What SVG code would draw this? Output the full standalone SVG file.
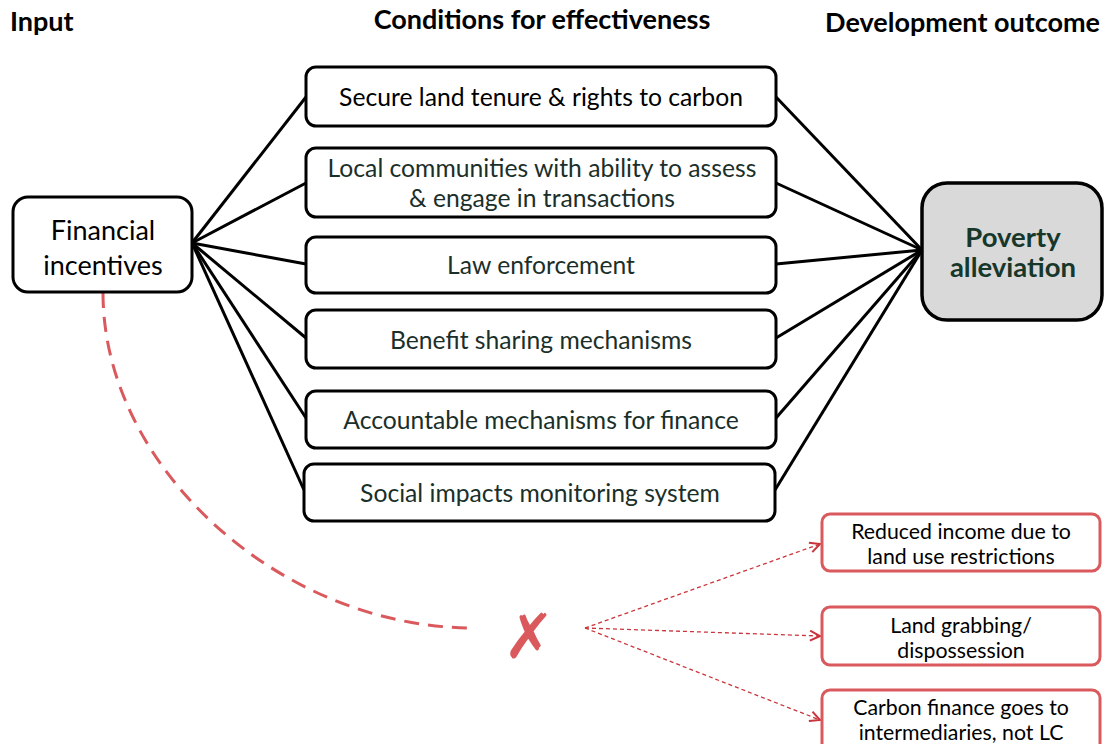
<svg xmlns="http://www.w3.org/2000/svg" width="1107" height="744" viewBox="0 0 1107 744">
<style>
text{font-family:Lato,"Open Sans","Liberation Sans",sans-serif}
.hdr{font-size:27px;font-weight:bold;fill:#000}
.box{fill:#fff;stroke:#000;stroke-width:3}
.ct{font-size:24.7px;fill:#1b2f2a;text-anchor:middle}
.conn{stroke:#000;stroke-width:3;fill:none}
.rbox{fill:#fff;stroke:#d9595c;stroke-width:3}
.rt{font-size:21.3px;fill:#000;text-anchor:middle}
.rarr{stroke:#c9353c;stroke-width:1.3;fill:none;stroke-dasharray:4 3}
</style>
<defs>
<marker id="ah" viewBox="0 0 12 12" refX="11" refY="6" markerWidth="12" markerHeight="12" markerUnits="userSpaceOnUse" orient="auto">
<path d="M1,1 L11,6 L1,11" fill="none" stroke="#c9353c" stroke-width="2"/>
</marker>
</defs>
<rect width="1107" height="744" fill="#fff"/>
<g id="headers">
<text class="hdr" x="10" y="31">Input</text>
<text class="hdr" x="542" y="29" text-anchor="middle">Conditions for effectiveness</text>
<text class="hdr" x="1100" y="32" text-anchor="end">Development outcome</text>
</g>
<g id="connectors">
<line class="conn" x1="192" y1="243" x2="306" y2="97"/>
<line class="conn" x1="192" y1="243" x2="306" y2="183"/>
<line class="conn" x1="192" y1="243" x2="306" y2="264"/>
<line class="conn" x1="192" y1="243" x2="306" y2="338"/>
<line class="conn" x1="192" y1="243" x2="306" y2="418"/>
<line class="conn" x1="192" y1="243" x2="304" y2="490"/>
<line class="conn" x1="776" y1="97" x2="922" y2="250"/>
<line class="conn" x1="776" y1="183" x2="922" y2="250"/>
<line class="conn" x1="776" y1="264" x2="922" y2="250"/>
<line class="conn" x1="776" y1="338" x2="922" y2="250"/>
<line class="conn" x1="776" y1="418" x2="922" y2="250"/>
<line class="conn" x1="775" y1="490" x2="922" y2="250"/>
<path d="M103,293 C103,467 280,628 474,628" fill="none" stroke="#d9595c" stroke-width="3" stroke-dasharray="15 9"/>
<line class="rarr" x1="585" y1="628" x2="820" y2="544" marker-end="url(#ah)"/>
<line class="rarr" x1="585" y1="628" x2="820" y2="636" marker-end="url(#ah)"/>
<line class="rarr" x1="585" y1="628" x2="820" y2="720" marker-end="url(#ah)"/>
</g>
<g id="financial">
<rect class="box" x="13" y="197" width="179" height="95" rx="15"/>
<text x="103" y="240" font-size="27" text-anchor="middle" fill="#000">Financial</text>
<text x="103" y="275" font-size="27" text-anchor="middle" fill="#000">incentives</text>
</g>
<g id="c1">
<rect class="box" x="306" y="67" width="470" height="59" rx="10"/>
<text class="ct" x="541" y="106" style="fill:#000">Secure land tenure &amp; rights to carbon</text>
</g>
<g id="c2">
<rect class="box" x="306" y="148" width="470" height="69" rx="10"/>
<text class="ct" x="542" y="177">Local communities with ability to assess</text>
<text class="ct" x="542" y="207">&amp; engage in transactions</text>
</g>
<g id="c3">
<rect class="box" x="306" y="237" width="470" height="56" rx="10"/>
<text class="ct" x="541" y="274">Law enforcement</text>
</g>
<g id="c4">
<rect class="box" x="306" y="310" width="470" height="58" rx="10"/>
<text class="ct" x="541" y="349">Benefit sharing mechanisms</text>
</g>
<g id="c5">
<rect class="box" x="306" y="391" width="470" height="57" rx="10"/>
<text class="ct" x="541" y="429">Accountable mechanisms for finance</text>
</g>
<g id="c6">
<rect class="box" x="304" y="464" width="471" height="57" rx="10"/>
<text class="ct" x="540" y="502">Social impacts monitoring system</text>
</g>
<g id="poverty">
<rect x="922" y="183" width="180" height="137" rx="25" fill="#d9d9d9" stroke="#000" stroke-width="3.5"/>
<text x="1013" y="247" font-size="27.5" font-weight="bold" text-anchor="middle" fill="#17372b">Poverty</text>
<text x="1013" y="277" font-size="27.5" font-weight="bold" text-anchor="middle" fill="#17372b">alleviation</text>
</g>
<g id="xmark">
<text x="529" y="658" font-size="62" text-anchor="middle" fill="#d9595c" style="font-family:'DejaVu Sans',sans-serif">✗</text>
</g>
<g id="r1">
<rect class="rbox" x="822" y="514" width="278" height="57" rx="8"/>
<text class="rt" x="961" y="539">Reduced income due to</text>
<text class="rt" x="961" y="564">land use restrictions</text>
</g>
<g id="r2">
<rect class="rbox" x="822" y="607" width="278" height="58" rx="8"/>
<text class="rt" x="961" y="633">Land grabbing/</text>
<text class="rt" x="961" y="658">dispossession</text>
</g>
<g id="r3">
<rect class="rbox" x="822" y="690" width="278" height="62" rx="8"/>
<text class="rt" x="961" y="715">Carbon finance goes to</text>
<text class="rt" x="961" y="740">intermediaries, not LC</text>
</g>
</svg>
